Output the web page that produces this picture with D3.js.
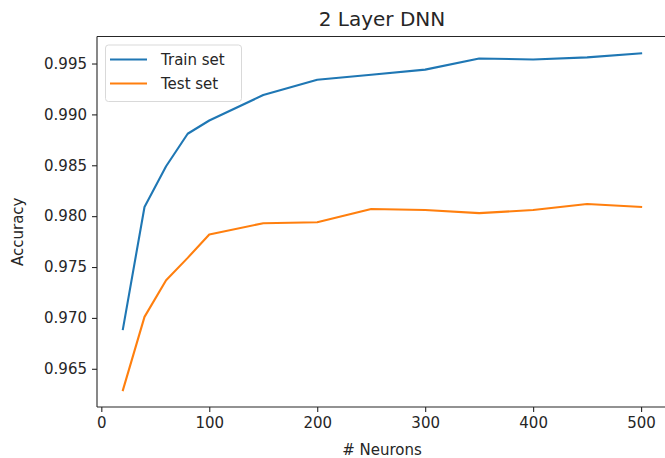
<!DOCTYPE html>
<html>
<head>
<meta charset="utf-8">
<script src="https://cdn.jsdelivr.net/npm/d3@7"></script>
<style>
  body { margin: 0; background: #fff; }
  text { font-family: "DejaVu Sans", sans-serif; fill: #262626; }
</style>
</head>
<body>
<div id="container"></div>
<script>
// data
var neurons = [20, 40, 60, 80, 100, 150, 200, 250, 300, 350, 400, 450, 500];
var trainAcc = [0.9689, 0.9809, 0.9849, 0.9881, 0.9894, 0.9919, 0.9934, 0.9939, 0.9944, 0.9955, 0.9954, 0.9956, 0.9960];
var testAcc = [0.9629, 0.9701, 0.9737, 0.9759, 0.9782, 0.9793, 0.9794, 0.9807, 0.9806, 0.9803, 0.9806, 0.9812, 0.9809];
var xTicks = [0, 100, 200, 300, 400, 500];
var yTicks = [0.965, 0.970, 0.975, 0.980, 0.985, 0.990, 0.995];
var seriesNames = ["Train set", "Test set"];
var seriesColors = ["#1f77b4", "#ff7f0e"];

var W = 665, H = 458;
var margin = {left: 97, right: 667, top: 36.5, bottom: 407};

var svg = d3.select("#container").append("svg")
    .attr("width", W).attr("height", H);

// matplotlib style 5% margins
var xPad = (d3.max(neurons) - d3.min(neurons)) * 0.05;
var allY = trainAcc.concat(testAcc);
var yPad = (d3.max(allY) - d3.min(allY)) * 0.05;

var x = d3.scaleLinear()
    .domain([d3.min(neurons) - xPad, d3.max(neurons) + xPad])
    .range([margin.left, margin.right]);
var y = d3.scaleLinear()
    .domain([d3.min(allY) - yPad, d3.max(allY) + yPad])
    .range([margin.bottom, margin.top]);

// lines
var line = d3.line()
    .x(function(d) { return x(d[0]); })
    .y(function(d) { return y(d[1]); });

[trainAcc, testAcc].forEach(function(vals, i) {
    svg.append("path")
        .datum(neurons.map(function(n, j) { return [n, vals[j]]; }))
        .attr("d", line)
        .attr("fill", "none")
        .attr("stroke", seriesColors[i])
        .attr("stroke-width", 2.1)
        .attr("stroke-linejoin", "round")
        .attr("stroke-linecap", "square");
});

// axes
var xAxis = svg.append("g")
    .attr("transform", "translate(0," + margin.bottom + ")")
    .call(d3.axisBottom(x).tickValues(xTicks).tickSize(5).tickPadding(5).tickFormat(d3.format("d")));
var yAxis = svg.append("g")
    .attr("transform", "translate(" + margin.left + ",0)")
    .call(d3.axisLeft(y).tickValues(yTicks).tickSize(5).tickPadding(5).tickFormat(d3.format(".3f")));

[xAxis, yAxis].forEach(function(a) {
    a.select(".domain").remove();
    a.selectAll(".tick line").attr("stroke", "#262626").attr("stroke-width", 1.1);
    a.selectAll(".tick text").attr("font-size", "15px").attr("fill", "#262626")
        .style("font-family", "DejaVu Sans");
});

// spines (left, top, bottom; right edge is cut off)
var spine = function(x1, y1, x2, y2) {
    svg.append("line").attr("x1", x1).attr("x2", x2).attr("y1", y1).attr("y2", y2)
        .attr("stroke", "#262626").attr("stroke-width", 1.1);
};
spine(margin.left, margin.top, margin.left, margin.bottom);
spine(margin.left, margin.top, W, margin.top);
spine(margin.left, margin.bottom, W, margin.bottom);

// title and axis labels
svg.append("text")
    .attr("x", (margin.left + margin.right) / 2).attr("y", 26)
    .attr("text-anchor", "middle")
    .attr("font-size", "20px")
    .text("2 Layer DNN");
svg.append("text")
    .attr("x", (margin.left + margin.right) / 2).attr("y", 455)
    .attr("text-anchor", "middle")
    .attr("font-size", "15px")
    .text("# Neurons");
svg.append("text")
    .attr("transform", "translate(23," + ((margin.top + margin.bottom) / 2 + 10) + ") rotate(-90)")
    .attr("text-anchor", "middle")
    .attr("font-size", "15px")
    .text("Accuracy");

// legend
var lg = svg.append("g");
lg.append("rect")
    .attr("x", 105.5).attr("y", 45).attr("width", 136).attr("height", 56.5)
    .attr("rx", 3).attr("fill", "#fff").attr("fill-opacity", 0.8)
    .attr("stroke", "#d9d9d9").attr("stroke-width", 1);
seriesNames.forEach(function(nm, i) {
    var yy = 59.5 + i * 24;
    lg.append("line")
        .attr("x1", 110).attr("x2", 147).attr("y1", yy).attr("y2", yy)
        .attr("stroke", seriesColors[i]).attr("stroke-width", 2.1);
    lg.append("text")
        .attr("x", 161).attr("y", yy + 5.5)
        .attr("font-size", "15px")
        .text(nm);
});
</script>
</body>
</html>
